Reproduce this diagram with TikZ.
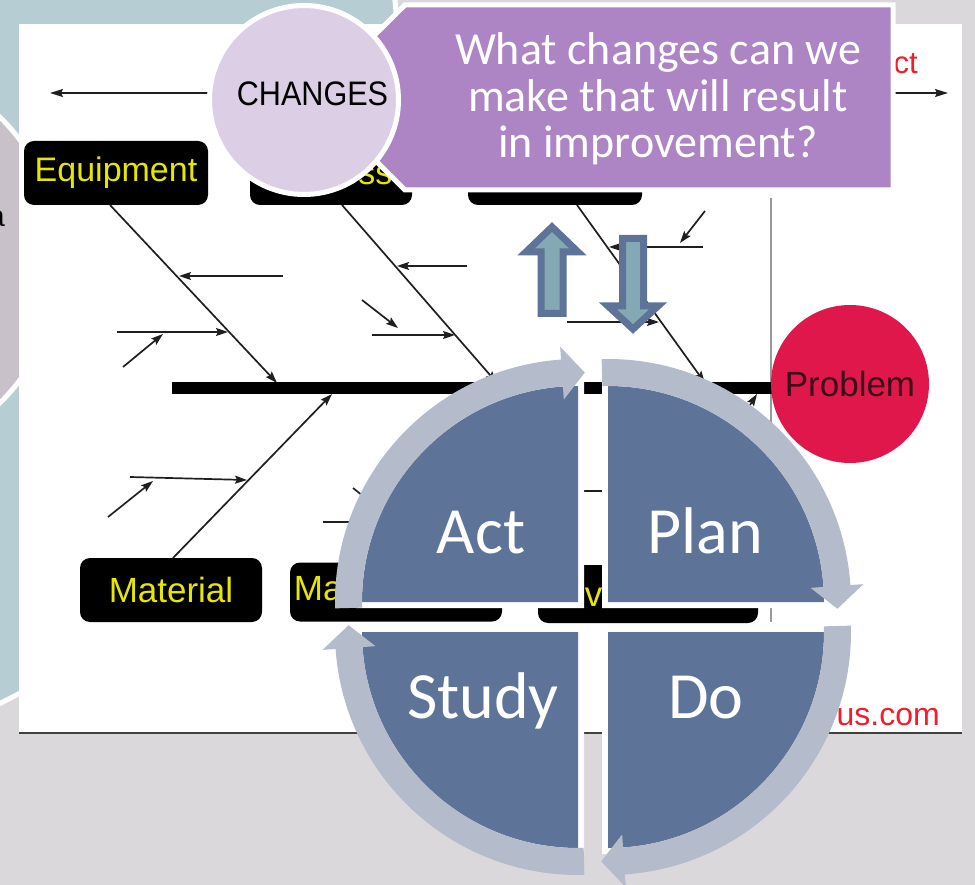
\documentclass[tikz,border=0pt]{standalone}
\usepackage{fontspec}
\setmainfont{Liberation Sans}
\newfontfamily\calfont{Carlito}
\usetikzlibrary{arrows.meta,calc}
\definecolor{bgGrey}{HTML}{DBD8DC}
\definecolor{bgBlue}{HTML}{B5CDD3}
\definecolor{bgMauve}{HTML}{C8C1C9}
\definecolor{callPurple}{HTML}{AD84C4}
\definecolor{chgLilac}{HTML}{DCCFE5}
\definecolor{pdcaDark}{HTML}{5E7398}
\definecolor{pdcaRing}{HTML}{B4BBCB}
\definecolor{arrFill}{HTML}{84A9B4}
\definecolor{probRed}{HTML}{E0174A}
\definecolor{probText}{HTML}{3A0F1A}
\definecolor{fbYellow}{HTML}{E6E600}
\definecolor{fbRed}{HTML}{F21C2A}
\newcommand\pdcaquad[2]{%
  \draw[white, line width=12pt, line join=miter] (#1) -- ++({#2}:216) arc[start angle={#2}, end angle={#2+90}, radius=216] -- cycle;
  \fill[pdcaDark] (#1) -- ++({#2}:216) arc[start angle={#2}, end angle={#2+90}, radius=216] -- cycle;}
\newcommand\pdcaring[2]{%
  \fill[pdcaRing] ($(#1)+({#2-1.5}:243)$) arc[start angle={#2-1.5}, end angle={#2+86}, radius=243]
    -- ($(#1)+({#2+86}:256)$) -- ($(#1)+({#2+91.7}:229.5)$) -- ($(#1)+({#2+86}:203)$)
    -- ($(#1)+({#2+86}:216)$) arc[start angle={#2+86}, end angle={#2-1.5}, radius=216] -- cycle;}
\tikzset{
  catbox/.style={fill=black, rounded corners=10pt, text=fbYellow, inner sep=0pt,
    font=\fontsize{34}{34}\selectfont},
  bone/.style={draw=black!88, line width=1.7pt, -{Stealth[length=12pt,width=8pt,inset=2pt]}},
  pdcalabel/.style={text=white, anchor=base, font=\calfont\fontsize{66}{66}\selectfont, inner sep=0pt},
  calltext/.style={text=white, anchor=base, font=\calfont\fontsize{46}{47}\selectfont, inner sep=0pt},
  blockarrow/.style={fill=arrFill, draw=pdcaDark, line width=7pt, miter limit=4}
}
\begin{document}
\begin{tikzpicture}[x=1pt,y=-1pt]
\useasboundingbox (0,0) rectangle (975,885);
\fill[bgGrey] (0,0) rectangle (975,885);
\begin{scope}
  \clip (0,0) rectangle (975,885);
  \path[fill=bgBlue, draw=white, line width=5pt] (-311,66) circle[radius=709];
  \path[fill=bgMauve, draw=white, line width=5pt] (-140,260) circle[radius=200];
  \node[anchor=base east, inner sep=0pt, font=\fontsize{30}{30}\selectfont] (frag) at (5,227) {a};
\end{scope}
% panel
\fill[white] (19,24) rectangle (962,733);
\draw[black!75, line width=2pt] (19,733) -- (962,733);
\draw[black!40, line width=1.5pt] (771,198) -- (771,622);
% top cause-effect arrow
\coordinate (causeEnd) at (50,93);
\coordinate (effectEnd) at (948,93);
\draw[black!88, line width=1.7pt, {Stealth[length=13pt,width=8pt,inset=2pt]}-{Stealth[length=13pt,width=8pt,inset=2pt]}] (causeEnd) -- (effectEnd);
\node[anchor=base east, inner sep=0pt, text=fbRed, font=\fontsize{31}{31}\selectfont] (effect) at (918,74) {Effect};
% bones: coordinates
\coordinate (eqB) at (110,205); \coordinate (eqS) at (277,383);
\coordinate (prB) at (342,205); \coordinate (prS) at (497,383);
\coordinate (mtB) at (577,205); \coordinate (mtS) at (705,383);
\coordinate (maB) at (173,558); \coordinate (maS) at (332,394);
\coordinate (mgB) at (398,563); \coordinate (mgS) at (557,394);
\coordinate (enB) at (648,565); \coordinate (enS) at (757,394);
\draw[bone] (eqB) -- (eqS);
\draw[bone] (prB) -- (prS);
\draw[bone] (mtB) -- (mtS);
\draw[bone] (maB) -- (maS);
\draw[bone] (mgB) -- (mgS);
\draw[bone] (enB) -- (enS);
% sub causes
\coordinate (e1a) at (283,276); \coordinate (e1b) at (179,276);
\coordinate (e2a) at (117,332); \coordinate (e2b) at (228,332);
\coordinate (e3a) at (123,367); \coordinate (e3b) at (163,334);
\draw[bone] (e1a) -- (e1b);
\draw[bone] (e2a) -- (e2b);
\draw[bone] (e3a) -- (e3b);
\coordinate (p1a) at (467,266); \coordinate (p1b) at (397,266);
\coordinate (p2a) at (372,335); \coordinate (p2b) at (455,335);
\coordinate (p3a) at (362,300); \coordinate (p3b) at (398,328);
\draw[bone] (p1a) -- (p1b);
\draw[bone] (p2a) -- (p2b);
\draw[bone] (p3a) -- (p3b);
\coordinate (t1a) at (703,247); \coordinate (t1b) at (609,247);
\coordinate (t2a) at (705,211); \coordinate (t2b) at (680,243);
\coordinate (t3a) at (567,322); \coordinate (t3b) at (659,322);
\draw[bone] (t1a) -- (t1b);
\draw[bone] (t2a) -- (t2b);
\draw[bone] (t3a) -- (t3b);
\coordinate (m1a) at (130,477); \coordinate (m1b) at (247,480);
\coordinate (m2a) at (108,517); \coordinate (m2b) at (153,481);
\draw[bone] (m1a) -- (m1b);
\draw[bone] (m2a) -- (m2b);
\coordinate (g1a) at (323,522); \coordinate (g1b) at (436,522);
\coordinate (g2a) at (353,488); \coordinate (g2b) at (388,516);
\draw[bone] (g1a) -- (g1b);
\draw[bone] (g2a) -- (g2b);
\coordinate (n1a) at (560,491); \coordinate (n1b) at (694,491);
\draw[bone] (n1a) -- (n1b);
% spine
\coordinate (spL) at (172,388); \coordinate (spR) at (790,388);
\draw[black, line width=11pt] (spL) -- (spR);
% category boxes
\node[catbox, minimum width=184pt, minimum height=64pt] (equip) at (116,173) {Equipment};
\node[catbox, minimum width=162pt, minimum height=64pt] (proc) at (331,173) {Process};
\node[catbox, minimum width=174pt, minimum height=64pt] (meth) at (555,173) {};
\node[catbox, minimum width=182pt, minimum height=64pt, font=\fontsize{35}{35}\selectfont] (mat) at (171,590) {Material};
\node[catbox, minimum width=212pt, minimum height=59pt, font=\fontsize{35}{35}\selectfont] (mgmt) at (396,592) {Management};
\node[catbox, minimum width=220pt, minimum height=58pt, text width=212pt, align=left, font=\fontsize{35}{35}\selectfont] (env) at (648,594) {Environment};
% problem
\node[circle, fill=probRed, minimum size=158pt, inner sep=0pt, text=probText,
  font=\fontsize{35}{35}\selectfont] (problem) at (850,384) {Problem};
\node[anchor=base east, inner sep=0pt, text=fbRed, font=\fontsize{32}{32}\selectfont] (web) at (940,725) {us.com};
% PDCA
\coordinate (CA) at (578,602);
\coordinate (CP) at (608,602);
\coordinate (CD) at (608,632);
\coordinate (CS) at (578,632);
\pdcaquad{CA}{180}
\pdcaquad{CP}{-90}
\pdcaquad{CD}{0}
\pdcaquad{CS}{90}
\pdcaring{CA}{-180}
\pdcaring{CP}{-90}
\pdcaring{CD}{0}
\pdcaring{CS}{90}
\node[pdcalabel] (act) at (481,553) {Act};
\node[pdcalabel] (plan) at (705,553) {Plan};
\node[pdcalabel] (study) at (483,718) {Study};
\node[pdcalabel] (do) at (706,718) {Do};
% up / down block arrows
\path[blockarrow] (552,227) -- (578,252) -- (563,252) -- (563,313.5) -- (541,313.5) -- (541,252) -- (526,252) -- cycle;
\path[blockarrow] (622.5,238.5) -- (643.5,238.5) -- (643.5,306) -- (658,306) -- (633,329) -- (608,306) -- (622.5,306) -- cycle;
% callout
\path[fill=callPurple, draw=white, line width=5pt, line join=miter] (312,97) -- (405,5) -- (893,5) -- (893,190) -- (405,190) -- cycle;
\node[calltext] (q1) at (658,65) {What changes can we};
\node[calltext] (q2) at (658,112) {make that will result};
\node[calltext] (q3) at (658,158) {in improvement?};
% changes circle
\node[circle, fill=chgLilac, draw=white, line width=5pt, minimum size=189pt, inner sep=0pt] (chg) at (304,100) {};
\node[inner sep=0pt, font=\fontsize{34}{34}\selectfont] (chglabel) at (312.5,94) {\scalebox{0.9}[1]{CHANGES}};
\end{tikzpicture}
\end{document}
